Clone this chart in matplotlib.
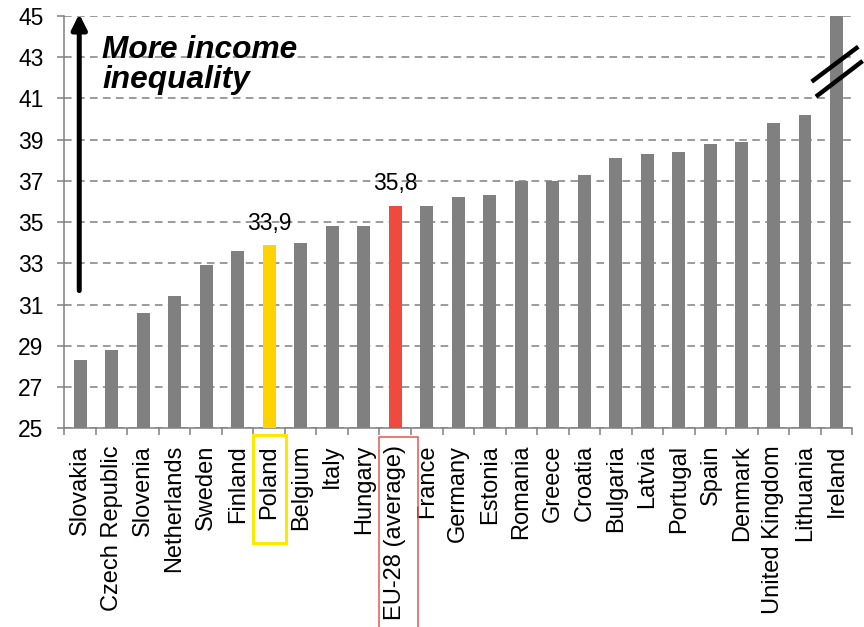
import matplotlib
matplotlib.use("Agg")
import matplotlib.pyplot as plt
from matplotlib.patches import Rectangle
from matplotlib.transforms import blended_transform_factory
import numpy as np

plt.rcParams["font.family"] = ["Liberation Sans", "DejaVu Sans"]

# Gini coefficient by country (Ireland is cut at the top of the axis)
countries = ["Slovakia", "Czech Republic", "Slovenia", "Netherlands", "Sweden",
             "Finland", "Poland", "Belgium", "Italy", "Hungary", "EU-28 (average)",
             "France", "Germany", "Estonia", "Romania", "Greece", "Croatia",
             "Bulgaria", "Latvia", "Portugal", "Spain", "Denmark",
             "United Kingdom", "Lithuania", "Ireland"]
gini = [28.3, 28.8, 30.6, 31.4, 32.9, 33.6, 33.9, 34.0, 34.8, 34.8, 35.8,
        35.8, 36.2, 36.3, 37.0, 37.0, 37.3, 38.1, 38.3, 38.4, 38.8, 38.9,
        39.8, 40.2, 45.0]
y_ticks = list(range(25, 46, 2))
labelled = ["Poland", "EU-28 (average)"]

GREY = "#808080"
highlight = {"Poland": "#FFD200", "EU-28 (average)": "#EE4B3E"}
box_color = {"Poland": "#FFE800", "EU-28 (average)": "#E8574E"}

fig = plt.figure(figsize=(8.64, 6.27), dpi=100)
ax = fig.add_axes([0.0744, 0.3169, 0.912, 0.6576])

x = np.arange(len(countries))
colors = [highlight.get(c, GREY) for c in countries]
ax.bar(x, gini, width=0.41, color=colors, zorder=3)

ax.set_xlim(-0.5, len(countries) - 0.5)
ax.set_ylim(25, 45)
ax.set_yticks(y_ticks)
ax.set_yticklabels([str(t) for t in y_ticks], fontsize=16.5)
ax.yaxis.grid(True, color=GREY, linestyle=(0, (5, 3.5)), linewidth=1.1, zorder=0)
ax.set_axisbelow(True)

ax.set_xticks(x)
ax.set_xticklabels(countries, rotation=90, fontsize=17, va="top", ha="center")
ax.set_xticks(np.arange(-0.5, len(countries)), minor=True)
ax.tick_params(axis="x", which="major", length=0, pad=12)
ax.tick_params(axis="x", which="minor", length=5, color=GREY, width=1.1)
ax.tick_params(axis="y", length=5, color=GREY, width=1.1, pad=10)

for s in ["top", "right"]:
    ax.spines[s].set_visible(False)
for s in ["left", "bottom"]:
    ax.spines[s].set_color(GREY)
    ax.spines[s].set_linewidth(1.1)

# value labels above the highlighted bars
for name in labelled:
    i = countries.index(name)
    ax.annotate(f"{gini[i]:.1f}".replace(".", ","), (i, gini[i]),
                xytext=(0, 11), textcoords="offset points",
                ha="center", va="baseline", fontsize=16.5)

# frames around the highlighted tick labels
trans = blended_transform_factory(ax.transData, ax.transAxes)
frames = {"Poland": (-0.5, 1.03, -0.016, -0.278, 2.2),
          "EU-28 (average)": (-0.53, 1.26, -0.022, -0.485, 1.1)}
for name, (dx, w, y0, y1, lw) in frames.items():
    i = countries.index(name)
    ax.add_patch(Rectangle((i + dx, y1), w, y0 - y1, transform=trans,
                           fill=False, edgecolor=box_color[name], lw=lw,
                           clip_on=False, zorder=5))

# arrow and caption
ax.annotate("", xy=(0.019, 1.005), xytext=(0.019, 0.334),
            xycoords="axes fraction",
            arrowprops=dict(arrowstyle="-|>,head_width=0.45,head_length=0.9",
                        color="black", lw=3.6, shrinkA=0, shrinkB=0))
ax.text(0.048, 0.953, "More income\ninequality", transform=ax.transAxes,
        fontsize=22.8, fontweight="bold", style="italic", ha="left", va="top",
        linespacing=1.0)

# axis break marks on the Ireland bar
for (x0, y0, x1, y1) in [(0.9485, 0.8407, 1.0076, 0.9255),
                         (0.9539, 0.8043, 1.0132, 0.8909)]:
    ax.plot([x0, x1], [y0, y1], transform=ax.transAxes, color="black",
            lw=3.2, solid_capstyle="butt", clip_on=False, zorder=6)

fig.savefig("out.png", dpi=100)
